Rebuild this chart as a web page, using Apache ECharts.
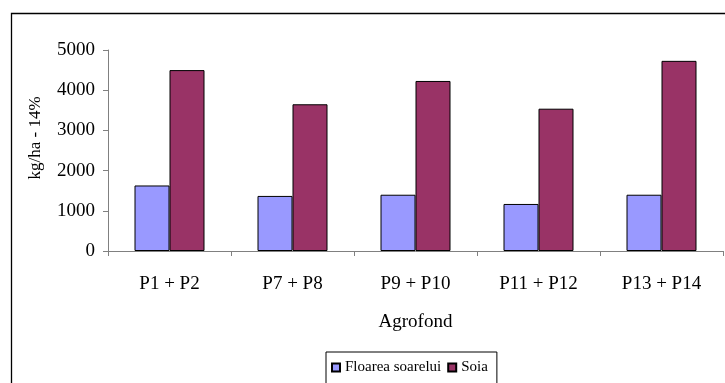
<!DOCTYPE html>
<html><head><meta charset="utf-8">
<script src="https://cdn.jsdelivr.net/npm/echarts@6/dist/echarts.min.js"></script>
<style>html,body{margin:0;padding:0;background:#fff}#c{width:725px;height:383px}</style>
</head><body><div id="c"></div>
<script>
var categories = ['P1 + P2', 'P7 + P8', 'P9 + P10', 'P11 + P12', 'P13 + P14'];
var floarea = [1630, 1370, 1400, 1170, 1400];
var soia = [4500, 3650, 4230, 3540, 4730];
var yTicks = [0, 1000, 2000, 3000, 4000, 5000];
var seriesNames = ['Floarea soarelui', 'Soia'];
var FONT = 'Liberation Serif';

var chart = echarts.init(document.getElementById('c'), null, {renderer: 'canvas'});
chart.setOption({
  animation: false,
  backgroundColor: '#fff',
  grid: {left: 108, right: 2, top: 50, bottom: 132, containLabel: false},
  legend: {
    data: seriesNames,
    left: 326, top: 352,
    orient: 'horizontal',
    itemWidth: 8, itemHeight: 8, itemGap: 6,
    icon: 'rect',
    borderColor: '#000', borderWidth: 1,
    padding: [8, 9, 20, 5],
    textStyle: {fontFamily: FONT, fontSize: 15, color: '#000'}
  },
  xAxis: {
    type: 'category',
    data: categories,
    name: 'Agrofond',
    nameLocation: 'middle',
    nameGap: 62,
    nameTextStyle: {fontFamily: FONT, fontSize: 19, color: '#000'},
    axisLine: {lineStyle: {color: '#808080', width: 1}},
    axisTick: {show: true, length: 5, lineStyle: {color: '#808080'}},
    axisLabel: {fontFamily: FONT, fontSize: 19, color: '#000', margin: 24}
  },
  yAxis: {
    type: 'value',
    min: yTicks[0], max: yTicks[yTicks.length - 1], interval: 1000,
    axisLine: {show: true, lineStyle: {color: '#808080', width: 1}},
    axisTick: {show: true, length: 5, lineStyle: {color: '#808080'}},
    splitLine: {show: false},
    axisLabel: {fontFamily: FONT, fontSize: 19, color: '#000', margin: 13,
      formatter: function (v) { return String(v); }}
  },
  graphic: [
    {type: 'rect', shape: {x: 11.5, y: 13.5, width: 730, height: 400}, style: {fill: 'none', stroke: '#000', lineWidth: 1.3}, silent: true},
    {type: 'text', x: 36, y: 138, rotation: Math.PI / 2,
     style: {text: 'kg/ha - 14%', font: '17px "Liberation Serif"', fill: '#000', textAlign: 'center', textVerticalAlign: 'middle'}}
  ],
  series: [
    {name: seriesNames[0], type: 'bar', data: floarea, barWidth: 35, barGap: '0%',
     itemStyle: {color: '#9999FF', borderColor: '#000', borderWidth: 1}},
    {name: seriesNames[1], type: 'bar', data: soia, barWidth: 35, barGap: '0%',
     itemStyle: {color: '#993366', borderColor: '#000', borderWidth: 1}}
  ]
});
</script></body></html>
